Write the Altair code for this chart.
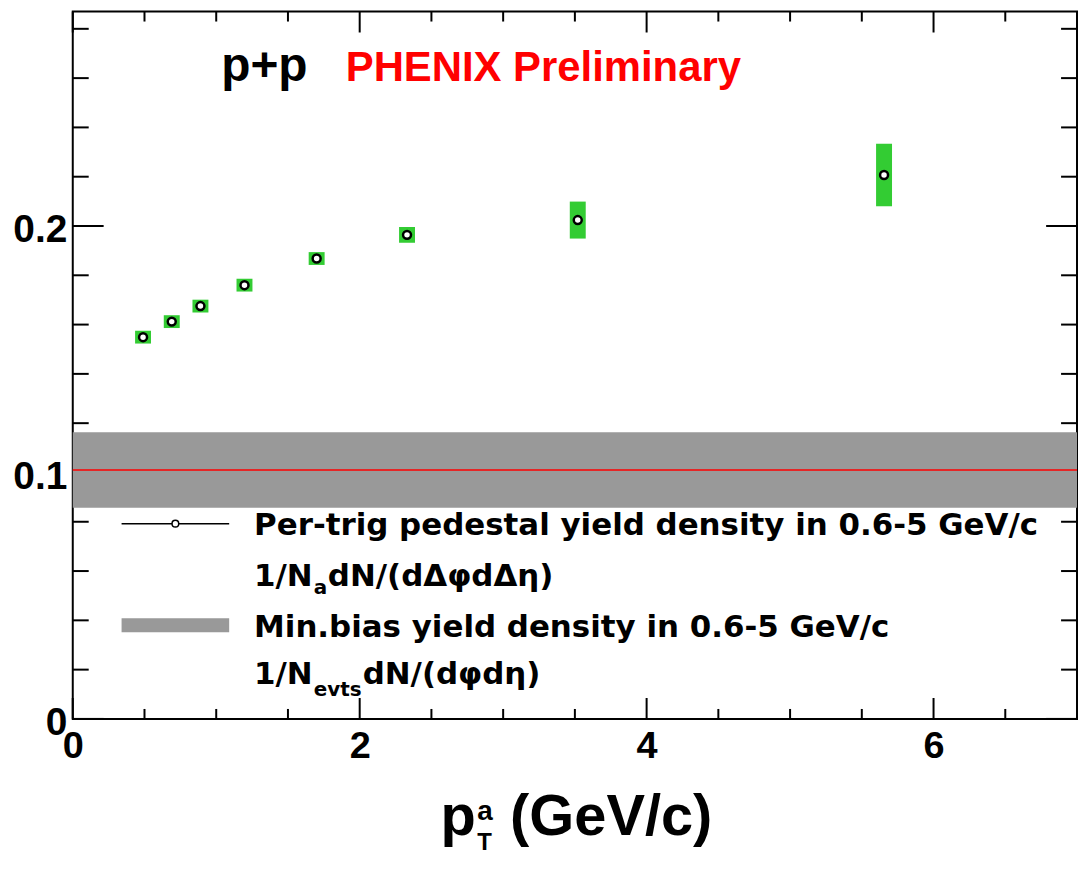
import altair as alt
import pandas as pd

# ---- data ----
pt_a = [0.49, 0.69, 0.89, 1.197, 1.70, 2.33, 3.52, 5.655]
ped_yield = [0.1549, 0.1612, 0.1675, 0.1760, 0.1868, 0.1964, 0.2024, 0.2207]
ped_sys = [0.0026, 0.0026, 0.0026, 0.0026, 0.0026, 0.0032, 0.0075, 0.0127]

minbias_value = [0.101]
minbias_err = [0.0153]

x_major = [0, 2, 4, 6]
x_minor = [0.5, 1, 1.5, 2.5, 3, 3.5, 4.5, 5, 5.5, 6.5]
y_major = [0, 0.1, 0.2]
y_minor = [0.02, 0.04, 0.06, 0.08, 0.12, 0.14, 0.16, 0.18, 0.22, 0.24, 0.26, 0.28]

title_left = "p+p"
title_right = "PHENIX Preliminary"
leg1_line1 = "Per-trig pedestal yield density in 0.6-5 GeV/c"
leg1_line2 = ["1/N", "a", "dN/(dΔφdΔη)"]
leg2_line1 = "Min.bias yield density in 0.6-5 GeV/c"
leg2_line2 = ["1/N", "evts", "dN/(dφdη)"]
xtitle = ["p", "a", "T", "(GeV/c)"]

# ---- layout / style ----
FONT = "Liberation Sans"
LFONT = "DejaVu Sans"
W, H = 1008, 710
OX, OY = 73, 10  # page position of plot origin
GREEN = "#33cc33"
GRAY = "#999999"

def px(x):
    return x - OX

def py(y):
    return y - OY

df = pd.DataFrame({
    "pt": pt_a,
    "y": ped_yield,
    "lo": [v - e for v, e in zip(ped_yield, ped_sys)],
    "hi": [v + e for v, e in zip(ped_yield, ped_sys)],
})
mb = pd.DataFrame({
    "c": minbias_value,
    "lo": [v - e for v, e in zip(minbias_value, minbias_err)],
    "hi": [v + e for v, e in zip(minbias_value, minbias_err)],
})

xscale = alt.Scale(domain=[0, 7], nice=False, zero=False, padding=0)
yscale = alt.Scale(domain=[0, 0.287], nice=False, zero=False, padding=0)

xaxis = alt.Axis(values=x_major, format="d", labelFontSize=38, labelFont=FONT,
                 labelFontWeight="bold", labelColor="black", ticks=False, tickSize=0,
                 domain=False, grid=False, labelPadding=9, labelFlush=False,
                 labelOverlap=False, labelBound=False, title=None)
yaxis = alt.Axis(values=y_major, format=".1~f", labelFontSize=39, labelFont=FONT,
                 labelFontWeight="bold", labelColor="black", ticks=False, tickSize=0,
                 domain=False, grid=False, labelPadding=6, labelFlush=False,
                 labelOffset=4, labelOverlap=False, labelBound=False, title=None)

X = alt.X("pt:Q", scale=xscale, axis=xaxis)
Y = alt.Y("y:Q", scale=yscale, axis=yaxis)

band = alt.Chart(mb).mark_rect(color=GRAY).encode(
    x=alt.datum(0, scale=xscale), x2=alt.datum(7),
    y=alt.Y("lo:Q", scale=yscale, axis=yaxis), y2="hi:Q")
redline = alt.Chart(mb).mark_rule(color="red", strokeWidth=1.5).encode(
    y=alt.Y("c:Q", scale=yscale, axis=yaxis))

boxes = alt.Chart(df).mark_bar(size=16, color=GREEN).encode(
    x=X, y=alt.Y("lo:Q", scale=yscale, axis=yaxis), y2="hi:Q")
points = alt.Chart(df).mark_point(shape="circle", filled=True, fill="white",
                                  stroke="black", strokeWidth=2.5, size=64,
                                  opacity=1).encode(x=X, y=Y)

# ---- inward ticks on all four sides ----
def yticks(vals, length):
    d = pd.DataFrame({"v": vals})
    ys = alt.Y("v:Q", scale=yscale, axis=yaxis)
    left = alt.Chart(d).mark_rule(color="black", strokeWidth=2).encode(
        y=ys, x=alt.value(0), x2=alt.value(length))
    right = alt.Chart(d).mark_rule(color="black", strokeWidth=2).encode(
        y=ys, x=alt.value(W), x2=alt.value(W - length))
    return [left, right]

def xticks(vals, length):
    d = pd.DataFrame({"v": vals})
    xs = alt.X("v:Q", scale=xscale, axis=xaxis)
    bottom = alt.Chart(d).mark_rule(color="black", strokeWidth=2).encode(
        x=xs, y=alt.value(H), y2=alt.value(H - length))
    top = alt.Chart(d).mark_rule(color="black", strokeWidth=2).encode(
        x=xs, y=alt.value(0), y2=alt.value(length))
    return [bottom, top]

ticks = yticks(y_minor, 16) + yticks(y_major, 31) + xticks(x_minor, 10) + xticks(x_major, 21)

# ---- text helper ----
def txt(s, x, y, size, color="black", align="left", font=FONT):
    return alt.Chart(pd.DataFrame({"t": [s]})).mark_text(
        align=align, baseline="alphabetic", font=font, fontWeight="bold",
        fontSize=size, color=color).encode(
        x=alt.value(x), y=alt.value(y), text="t:N")

one = pd.DataFrame({"k": [0]})

texts = [
    txt(title_left, px(222), py(80), 48),
    txt(title_right, px(347), py(80), 42, color="red"),
    txt(leg1_line1, px(255), py(535), 31, font=LFONT),
    txt(leg1_line2[0], px(255), py(587), 31, font=LFONT),
    txt(leg1_line2[1], px(315), py(595), 20, font=LFONT),
    txt(leg1_line2[2], px(329), py(587), 31, font=LFONT),
    txt(leg2_line1, px(255), py(638), 31, font=LFONT),
    txt(leg2_line2[0], px(255), py(685), 31, font=LFONT),
    txt(leg2_line2[1], px(315), py(697), 20, font=LFONT),
    txt(leg2_line2[2], px(364), py(685), 31, font=LFONT),
    txt(xtitle[0], px(442), py(837), 58),
    txt(xtitle[1], px(479), py(821), 28),
    txt(xtitle[2], px(479), py(852), 24),
    txt(xtitle[3], px(512), py(837), 58),
]

leg_line = alt.Chart(one).mark_rule(color="black", strokeWidth=1.5).encode(
    x=alt.value(px(122)), x2=alt.value(px(230)), y=alt.value(py(524)))
leg_pt = alt.Chart(one).mark_point(shape="circle", filled=True, fill="white",
                                   stroke="black", strokeWidth=1.5, size=45,
                                   opacity=1).encode(
    x=alt.value(px(176)), y=alt.value(py(524)))
leg_rect = alt.Chart(one).mark_rect(color=GRAY).encode(
    x=alt.value(px(122)), x2=alt.value(px(230)),
    y=alt.value(py(619)), y2=alt.value(py(633)))

chart = alt.layer(
    *ticks, band, redline, boxes, points, leg_line, leg_pt, leg_rect, *texts
).properties(
    width=W, height=H,
    padding={"left": 65, "top": 2, "right": 2, "bottom": 136},
    autosize=alt.AutoSizeParams(type="none"),
    background="white",
).configure_view(stroke="black", strokeWidth=2)

chart.save("out.html", embed_options={"renderer": "svg", "actions": False})
